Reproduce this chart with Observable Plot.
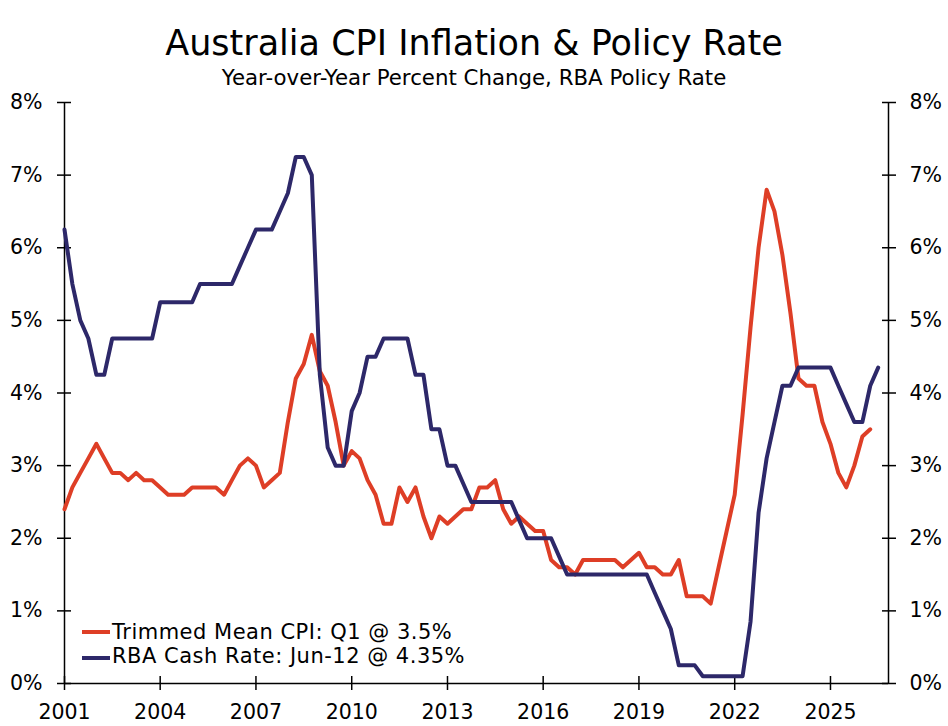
<!DOCTYPE html>
<html>
<head>
<meta charset="utf-8">
<script src="https://cdn.jsdelivr.net/npm/d3@7"></script>
<script src="https://cdn.jsdelivr.net/npm/@observablehq/plot@0.6"></script>
<style>
  body { margin: 0; background: #fff; }
  #wrap { position: relative; width: 948px; height: 726px; overflow: hidden; background: #fff; color: #000; }
  #title { position: absolute; left: 0; top: 26px; width: 948px; text-align: center;
           font-family: "DejaVu Sans", sans-serif; font-size: 35px; line-height: 1; white-space: nowrap; }
  #subtitle { position: absolute; left: 0; top: 67px; width: 948px; text-align: center;
           font-family: "DejaVu Sans", sans-serif; font-size: 21.3px; line-height: 1; white-space: nowrap; }
  #chart { position: absolute; left: 0; top: 90px; }
  .lg { position: absolute; left: 112px; font-family: "DejaVu Sans", sans-serif; font-size: 21px; letter-spacing: 0.5px; line-height: 1; white-space: nowrap; }
  .sw { position: absolute; left: 82px; width: 28px; height: 4px; }
</style>
</head>
<body>
<div id="wrap">
  <div id="title">Australia CPI Inflation &amp; Policy Rate</div>
  <div id="subtitle">Year-over-Year Percent Change, RBA Policy Rate</div>
  <div id="chart"></div>
  <div class="sw" id="sw1" style="top:630px;"></div>
  <div class="lg" id="lg1" style="top:621.5px;"></div>
  <div class="sw" id="sw2" style="top:655.5px;"></div>
  <div class="lg" id="lg2" style="top:645.5px;"></div>
</div>
<script>
// ---- data ----
const seriesNames = ["Trimmed Mean CPI: Q1 @ 3.5%", "RBA Cash Rate: Jun-12 @ 4.35%"];
const seriesColors = ["#DE3E26", "#2D2869"];

// quarterly, first observation plotted at start of 2001
const cpiValues = [
  2.4, 2.7, 2.9, 3.1, 3.3, 3.1, 2.9, 2.9, 2.8, 2.9,
  2.8, 2.8, 2.7, 2.6, 2.6, 2.6, 2.7, 2.7, 2.7, 2.7,
  2.6, 2.8, 3.0, 3.1, 3.0, 2.7, 2.8, 2.9, 3.6, 4.2,
  4.4, 4.8, 4.3, 4.1, 3.6, 3.0, 3.2, 3.1, 2.8, 2.6,
  2.2, 2.2, 2.7, 2.5, 2.7, 2.3, 2.0, 2.3, 2.2, 2.3,
  2.4, 2.4, 2.7, 2.7, 2.8, 2.4, 2.2, 2.3, 2.2, 2.1,
  2.1, 1.7, 1.6, 1.6, 1.5, 1.7, 1.7, 1.7, 1.7, 1.7,
  1.6, 1.7, 1.8, 1.6, 1.6, 1.5, 1.5, 1.7, 1.2, 1.2,
  1.2, 1.1, 1.6, 2.1, 2.6, 3.7, 4.9, 6.0, 6.8, 6.5,
  5.9, 5.1, 4.2, 4.1, 4.1, 3.6, 3.3, 2.9, 2.7, 3.0,
  3.4, 3.5
];
const rbaValues = [
  6.25, 5.5, 5.0, 4.75, 4.25, 4.25, 4.75, 4.75, 4.75, 4.75,
  4.75, 4.75, 5.25, 5.25, 5.25, 5.25, 5.25, 5.5, 5.5, 5.5,
  5.5, 5.5, 5.75, 6.0, 6.25, 6.25, 6.25, 6.5, 6.75, 7.25,
  7.25, 7.0, 4.25, 3.25, 3.0, 3.0, 3.75, 4.0, 4.5, 4.5,
  4.75, 4.75, 4.75, 4.75, 4.25, 4.25, 3.5, 3.5, 3.0, 3.0,
  2.75, 2.5, 2.5, 2.5, 2.5, 2.5, 2.5, 2.25, 2.0, 2.0,
  2.0, 2.0, 1.75, 1.5, 1.5, 1.5, 1.5, 1.5, 1.5, 1.5,
  1.5, 1.5, 1.5, 1.5, 1.25, 1.0, 0.75, 0.25, 0.25, 0.25,
  0.1, 0.1, 0.1, 0.1, 0.1, 0.1, 0.85, 2.35, 3.1, 3.6,
  4.1, 4.1, 4.35, 4.35, 4.35, 4.35, 4.35, 4.1, 3.85, 3.6,
  3.6, 4.1, 4.35
];
const xTickYears = [2001, 2004, 2007, 2010, 2013, 2016, 2019, 2022, 2025];
const yTicks = [0, 1, 2, 3, 4, 5, 6, 7, 8];
const yTickLabels = ["0%", "1%", "2%", "3%", "4%", "5%", "6%", "7%", "8%"];

// ---- build ----
const start = new Date(Date.UTC(2001, 0, 1));
const qDate = (i) => d3.utcMonth.offset(start, 3 * i);
const cpiData = cpiValues.map((v, i) => ({date: qDate(i), value: v}));
const rbaData = rbaValues.map((v, i) => ({date: qDate(i), value: v}));
const xTicks = xTickYears.map(y => new Date(Date.UTC(y, 0, 1)));
const xMin = start, xMax = new Date(Date.UTC(2026, 9, 27));

const chart = Plot.plot({
  width: 948, height: 636,
  marginTop: 12, marginBottom: 43, marginLeft: 64, marginRight: 60,
  style: {fontFamily: "DejaVu Sans, sans-serif", fontSize: "20.5px", color: "#000", background: "#fff", overflow: "visible"},
  x: {type: "utc", domain: [xMin, xMax]},
  y: {domain: [0, 8]},
  marks: [
    Plot.ruleY([0], {stroke: "#000", strokeWidth: 1.5}),
    Plot.ruleX([xMin], {stroke: "#000", strokeWidth: 1.5}),
    Plot.ruleX([xMax], {stroke: "#000", strokeWidth: 1.5}),
    Plot.axisX({ticks: xTicks, tickSize: 14, dy: -7, tickFormat: () => "", strokeWidth: 1.5, label: null}),
    Plot.axisX({ticks: xTicks, tickSize: 0, tickPadding: 21, tickFormat: d => String(d.getUTCFullYear()), label: null, fill: "#000"}),
    Plot.axisY({anchor: "left", ticks: yTicks, tickSize: 14, dx: 7, tickFormat: () => "", strokeWidth: 1.5, label: null}),
    Plot.axisY({anchor: "left", ticks: yTicks, tickSize: 0, tickPadding: 22, tickFormat: d => yTickLabels[yTicks.indexOf(d)], label: null, fill: "#000"}),
    Plot.axisY({anchor: "right", ticks: yTicks, tickSize: 14, dx: -7, tickFormat: () => "", strokeWidth: 1.5, label: null}),
    Plot.axisY({anchor: "right", ticks: yTicks, tickSize: 0, tickPadding: 21, tickFormat: d => yTickLabels[yTicks.indexOf(d)], label: null, fill: "#000"}),
    Plot.line(cpiData, {x: "date", y: "value", stroke: seriesColors[0], strokeWidth: 4}),
    Plot.line(rbaData, {x: "date", y: "value", stroke: seriesColors[1], strokeWidth: 4})
  ]
});
document.getElementById("chart").appendChild(chart);

document.getElementById("lg1").textContent = seriesNames[0];
document.getElementById("lg2").textContent = seriesNames[1];
document.getElementById("sw1").style.background = seriesColors[0];
document.getElementById("sw2").style.background = seriesColors[1];
</script>
</body>
</html>
